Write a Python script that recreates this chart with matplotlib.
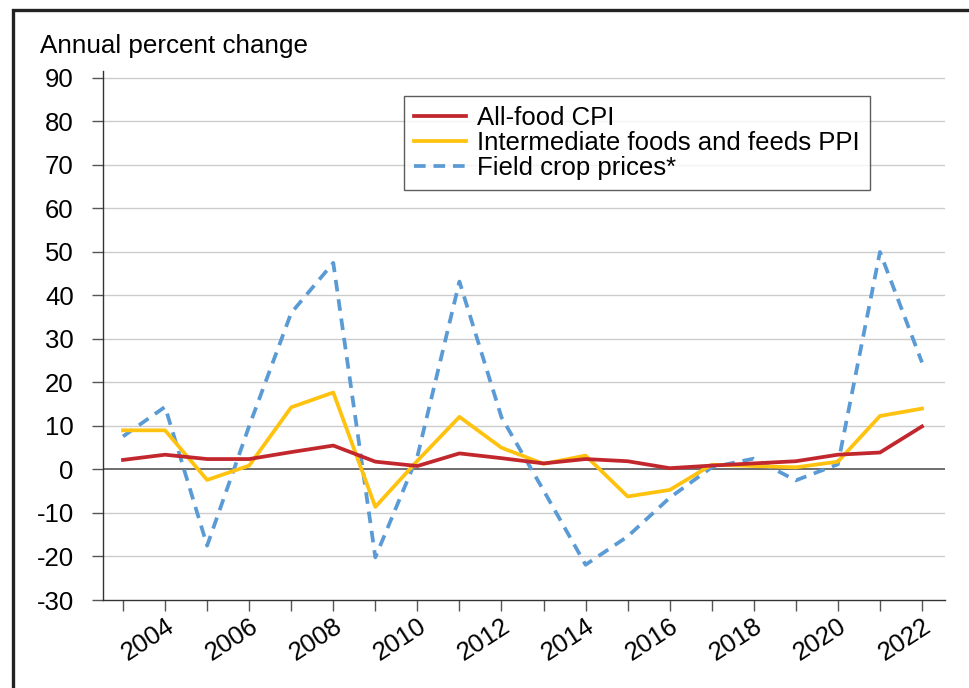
import matplotlib
matplotlib.use("Agg")
import matplotlib.pyplot as plt
from matplotlib.patches import Rectangle

plt.rcParams['font.family'] = ['Liberation Sans', 'DejaVu Sans']

years = list(range(2003, 2023))
food_cpi = [2.2, 3.4, 2.4, 2.4, 4.0, 5.5, 1.8, 0.8, 3.7, 2.6,
            1.4, 2.4, 1.9, 0.3, 0.9, 1.4, 1.9, 3.4, 3.9, 9.9]
ppi_feeds = [9.0, 9.0, -2.4, 0.9, 14.3, 17.7, -8.6, 2.0, 12.1, 5.0,
             1.3, 3.2, -6.2, -4.7, 1.1, 0.8, 0.5, 1.8, 12.3, 14.0]
field_crop = [7.6, 14.4, -17.5, 10.0, 36.0, 47.5, -20.2, 3.0, 43.2, 12.0,
              -4.8, -21.9, -15.4, -6.5, 0.5, 2.5, -2.5, 1.2, 50.0, 24.6]
yticks = list(range(-30, 91, 10))
label_years = list(range(2004, 2023, 2))

fig = plt.figure(figsize=(9.69, 6.88), dpi=100)
ax = fig.add_axes([103/969, 1 - 600/688, (945 - 103)/969, (600 - 71)/688])

red = '#C1272D'
gold = '#FFC20E'
blue = '#5B9BD5'

ax.plot(years, food_cpi, color=red, lw=2.7, label='All-food CPI', zorder=4)
ax.plot(years, ppi_feeds, color=gold, lw=2.7, label='Intermediate foods and feeds PPI', zorder=3)
ax.plot(years, field_crop, color=blue, lw=2.7, ls=(0, (3.1, 2.1)),
        label='Field crop prices*', zorder=2)

ax.set_ylim(-30, 91.6)
ax.set_xlim(2002.524, 2022.547)
ax.set_yticks(yticks)
ax.set_yticklabels([str(v) for v in yticks], fontsize=18.5)
ax.set_xticks(years)
ax.set_xticklabels([str(y) if y in label_years else '' for y in years], fontsize=18.5,
                   rotation=33, ha='right', va='top', rotation_mode='anchor')

for v in yticks[1:]:
    if v == 0:
        ax.axhline(v, color='#555555', lw=1.2, zorder=1)
    else:
        ax.axhline(v, color='#cccccc', lw=1.0, zorder=0)

for s in ['top', 'right']:
    ax.spines[s].set_visible(False)
for s in ['left', 'bottom']:
    ax.spines[s].set_color('#333333')
    ax.spines[s].set_linewidth(1.0)
ax.tick_params(axis='y', length=8, width=1.0, color='#555555', pad=13)
ax.tick_params(axis='x', length=8, width=1.0, color='#555555', pad=2)

fig.text(40/969, 1 - 53/688, 'Annual percent change', fontsize=18.7, va='baseline', ha='left')

leg = ax.legend(loc='upper left', bbox_to_anchor=(404/969, 1 - 96/688),
                bbox_transform=fig.transFigure, fontsize=18.5, frameon=True,
                fancybox=False, borderaxespad=0, handlelength=2.0,
                handletextpad=0.45, labelspacing=0.03, borderpad=0.4)
leg.get_frame().set_edgecolor('#333333')
leg.get_frame().set_linewidth(1.0)

frame = Rectangle((13/969, -0.1), 1.2, 1 - 10/688 + 0.1, transform=fig.transFigure,
                  fill=False, edgecolor='#222222', lw=2.4, clip_on=False)
fig.patches.append(frame)

fig.savefig('out.png', dpi=100)
